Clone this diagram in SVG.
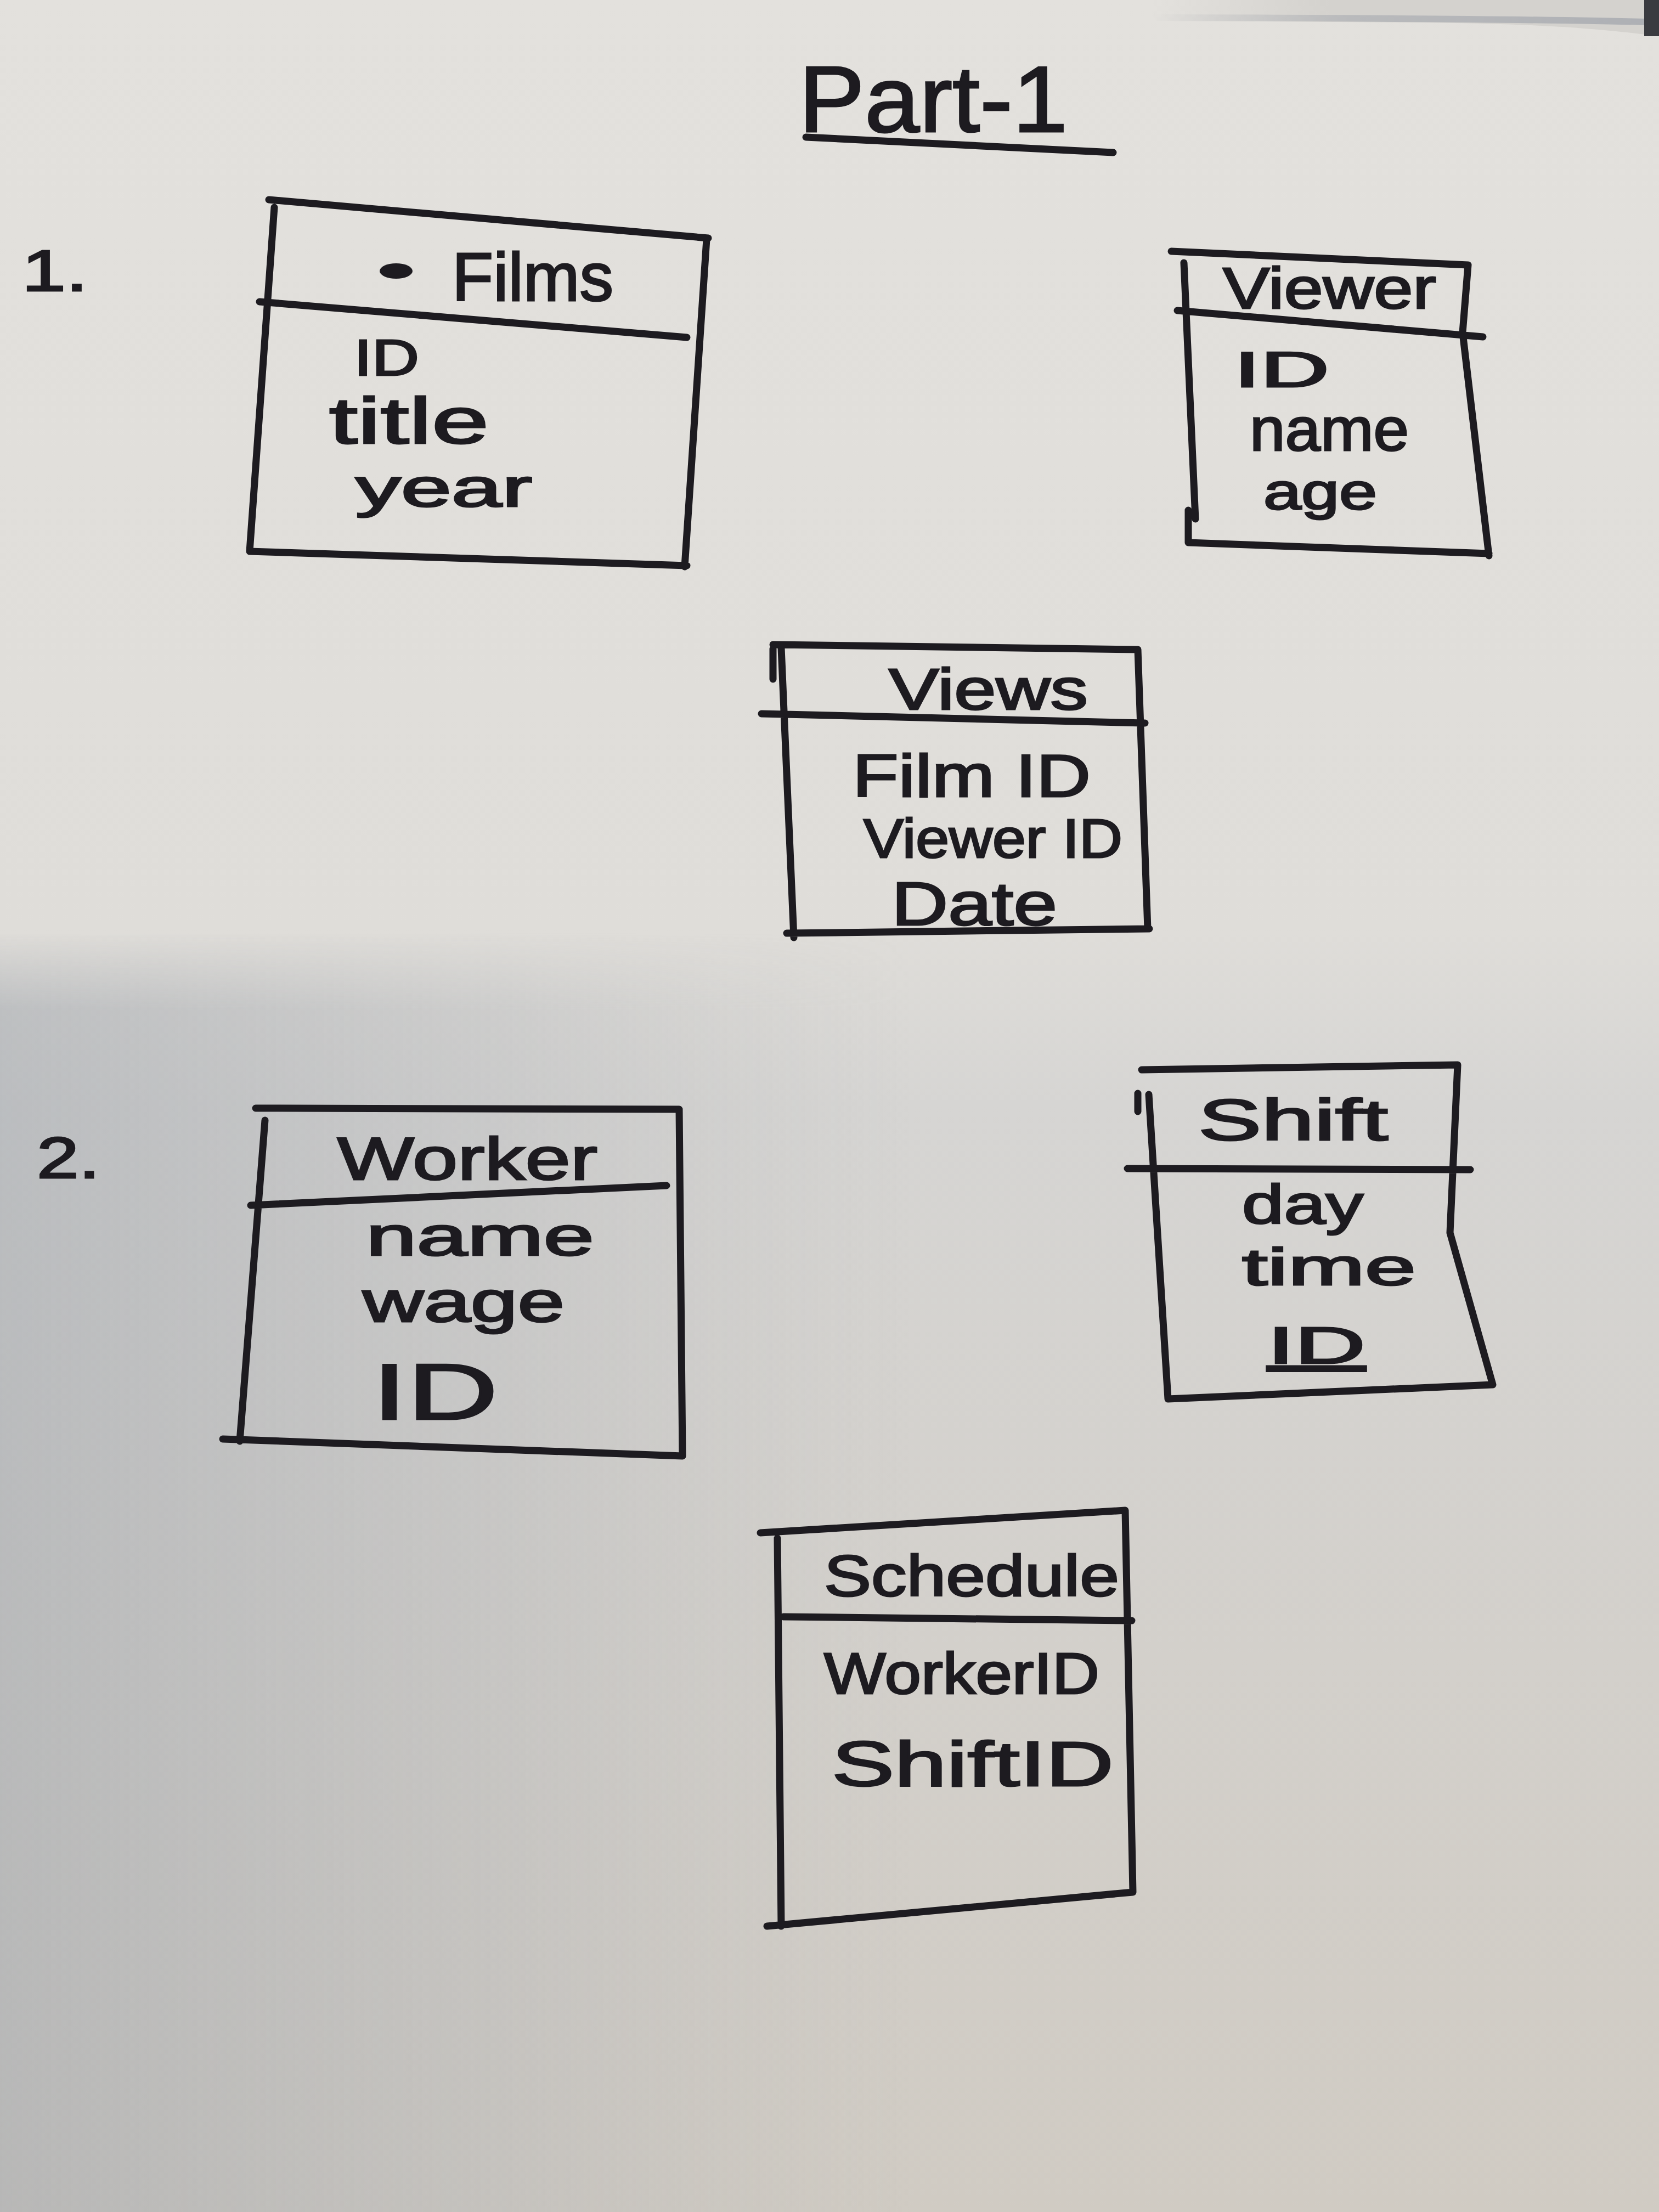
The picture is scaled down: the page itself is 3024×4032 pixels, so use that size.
<svg xmlns="http://www.w3.org/2000/svg" width="3024" height="4032" viewBox="0 0 3024 4032">
<defs>
<linearGradient id="paperV" x1="0" y1="0" x2="0" y2="1">
<stop offset="0" stop-color="#e3e1dd"/>
<stop offset="0.42" stop-color="#dfddd9"/>
<stop offset="0.5" stop-color="#d6d5d3"/>
<stop offset="1" stop-color="#d0cbc3"/>
</linearGradient>
<linearGradient id="shadeH" x1="0" y1="0" x2="1" y2="0">
<stop offset="0" stop-color="#9aa0a8" stop-opacity="0.45"/>
<stop offset="0.3" stop-color="#a4a8ae" stop-opacity="0.25"/>
<stop offset="0.55" stop-color="#b0b2b4" stop-opacity="0"/>
</linearGradient>
<linearGradient id="fadeV" x1="0" y1="0" x2="0" y2="1">
<stop offset="0" stop-color="#fff" stop-opacity="0"/>
<stop offset="0.06" stop-color="#fff" stop-opacity="1"/>
<stop offset="1" stop-color="#fff" stop-opacity="1"/>
</linearGradient>
<linearGradient id="edgeFade" x1="0" y1="0" x2="1" y2="0">
<stop offset="0" stop-color="#a7aab0" stop-opacity="0"/>
<stop offset="0.4" stop-color="#a7aab0" stop-opacity="0.6"/>
<stop offset="1" stop-color="#a7aab0" stop-opacity="0.85"/>
</linearGradient>
<linearGradient id="backFade" x1="0" y1="0" x2="1" y2="0">
<stop offset="0" stop-color="#d4d2ce" stop-opacity="0"/>
<stop offset="0.35" stop-color="#d4d2ce" stop-opacity="1"/>
<stop offset="1" stop-color="#d4d2ce" stop-opacity="1"/>
</linearGradient>
<mask id="lowMask">
<rect x="0" y="1700" width="3024" height="2332" fill="url(#fadeV)"/>
</mask>
<style>
.ink{fill:none;stroke:#1d1b20;stroke-width:13;stroke-linecap:round;stroke-linejoin:round}
.t{font-family:"Liberation Sans","DejaVu Sans",sans-serif;fill:#1d1b20;stroke:#1d1b20;stroke-width:3}
</style>
</defs>
<rect x="0" y="0" width="3024" height="4032" fill="url(#paperV)"/>
<rect x="0" y="1700" width="3024" height="2332" fill="url(#shadeH)" mask="url(#lowMask)"/>
<path d="M2100,0 L3024,0 L3024,66 C2900,50 2800,44 2600,41 L2100,38 Z" fill="url(#backFade)"/>
<path d="M2100,32 C2500,33 2800,35 3000,40" stroke="url(#edgeFade)" stroke-width="12" fill="none"/>
<rect x="2997" y="0" width="27" height="66" fill="#3a3b40"/>

<g id="title">
<text class="t" x="1456" y="240" font-size="170" textLength="490" lengthAdjust="spacingAndGlyphs">Part-1</text>
<path class="ink" d="M1469,250 L2029,278"/>
</g>
<g id="label-1"><text class="t" x="40" y="530" font-size="105" textLength="120" lengthAdjust="spacingAndGlyphs">1.</text></g>
<g id="label-2"><text class="t" x="67" y="2147" font-size="105" textLength="115" lengthAdjust="spacingAndGlyphs">2.</text></g>

<g id="films">
<path class="ink" d="M490,364 L1291,434 M1288,436 L1248,1033 M455,1005 L1252,1031 M500,378 L455,1005 M473,550 L1252,615"/>
<ellipse cx="722" cy="494" rx="30" ry="14" fill="#1d1b20"/>
<text class="t" x="824" y="548" font-size="125" textLength="294" lengthAdjust="spacingAndGlyphs">Films</text>
<text class="t" x="645" y="684" font-size="93" textLength="119" lengthAdjust="spacingAndGlyphs">ID</text>
<text class="t" x="600" y="808" font-size="118" textLength="291" lengthAdjust="spacingAndGlyphs">title</text>
<text class="t" x="648" y="923" font-size="98" textLength="322" lengthAdjust="spacingAndGlyphs">year</text>
</g>

<g id="viewer">
<path class="ink" d="M2135,458 L2676,483 L2666,606 L2714,1013 M2166,989 L2714,1009 M2158,479 L2179,946 M2166,930 L2166,989 M2146,566 L2703,614"/>
<text class="t" x="2229" y="562" font-size="105" textLength="389" lengthAdjust="spacingAndGlyphs">Viewer</text>
<text class="t" x="2249" y="705" font-size="90" textLength="174" lengthAdjust="spacingAndGlyphs">ID</text>
<text class="t" x="2278" y="821" font-size="112" textLength="290" lengthAdjust="spacingAndGlyphs">name</text>
<text class="t" x="2303" y="928" font-size="92" textLength="207" lengthAdjust="spacingAndGlyphs">age</text>
</g>

<g id="views">
<path class="ink" d="M1409,1175 L2074,1184 L2092,1693 M1424,1181 L1447,1709 M1434,1701 L2095,1693 M1409,1183 L1409,1238 M1388,1301 L2087,1318"/>
<text class="t" x="1620" y="1293" font-size="105" textLength="363" lengthAdjust="spacingAndGlyphs">Views</text>
<text class="t" x="1554" y="1452" font-size="110" textLength="434" lengthAdjust="spacingAndGlyphs">Film ID</text>
<text class="t" x="1574" y="1563" font-size="100" textLength="472" lengthAdjust="spacingAndGlyphs">Viewer ID</text>
<text class="t" x="1625" y="1686" font-size="112" textLength="302" lengthAdjust="spacingAndGlyphs">Date</text>
</g>

<g id="worker">
<path class="ink" d="M466,2020 L1238,2022 L1244,2654 M406,2623 L1244,2654 M483,2042 L437,2627 M457,2197 L1215,2161"/>
<text class="t" x="615" y="2150" font-size="110" textLength="474" lengthAdjust="spacingAndGlyphs">Worker</text>
<text class="t" x="667" y="2288" font-size="100" textLength="416" lengthAdjust="spacingAndGlyphs">name</text>
<text class="t" x="661" y="2409" font-size="105" textLength="368" lengthAdjust="spacingAndGlyphs">wage</text>
<text class="t" x="678" y="2587" font-size="145" textLength="230" lengthAdjust="spacingAndGlyphs">ID</text>
</g>

<g id="shift">
<path class="ink" d="M2081,1950 L2657,1941 L2643,2247 L2721,2524 M2129,2550 L2721,2524 M2094,1995 L2129,2550 M2074,1993 L2074,2026 M2055,2130 L2680,2132"/>
<text class="t" x="2184" y="2078" font-size="105" textLength="346" lengthAdjust="spacingAndGlyphs">Shift</text>
<text class="t" x="2264" y="2230" font-size="100" textLength="221" lengthAdjust="spacingAndGlyphs">day</text>
<text class="t" x="2264" y="2342" font-size="95" textLength="317" lengthAdjust="spacingAndGlyphs">time</text>
<text class="t" x="2310" y="2485" font-size="95" textLength="179" lengthAdjust="spacingAndGlyphs" text-decoration="underline">ID</text>
</g>

<g id="schedule">
<path class="ink" d="M1386,2794 L2051,2753 L2065,3449 M1417,2804 L1424,3511 M1398,3511 L2065,3449 M1428,2947 L2063,2954"/>
<text class="t" x="1502" y="2909" font-size="105" textLength="538" lengthAdjust="spacingAndGlyphs">Schedule</text>
<text class="t" x="1502" y="3087" font-size="105" textLength="502" lengthAdjust="spacingAndGlyphs">WorkerID</text>
<text class="t" x="1516" y="3255" font-size="115" textLength="514" lengthAdjust="spacingAndGlyphs">ShiftID</text>
</g>

<g id="connectors"></g>
</svg>
